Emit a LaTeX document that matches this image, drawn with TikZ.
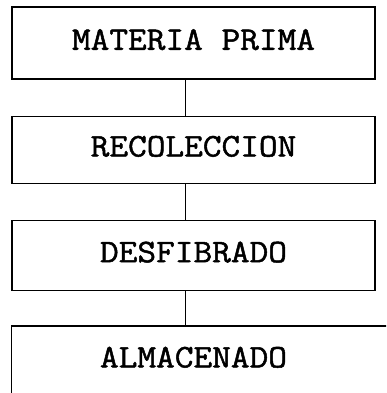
\documentclass[tikz,border=0pt]{standalone}
\usepackage{fontspec}
\newfontfamily\stagefont{Latin Modern Mono}[FakeStretch=1.1, FakeBold=1.5]
\usepackage{tikz}
\usetikzlibrary{positioning}

\tikzset{
    stagebox/.style={draw, line width=1.2pt, minimum width=363pt, inner sep=0pt,
        text depth=7pt, font=\stagefont\fontsize{33}{33}\selectfont},
    link/.style={line width=1.2pt},
}

\begin{document}
\begin{tikzpicture}[x=1pt, y=1pt]
    % Frame of the page
    \useasboundingbox (0,0) rectangle (386,-393);
    \clip (0,0) rectangle (386,-393);

    % Stages
    \node[stagebox, minimum height=72pt] (mp) at (193.5,-43) {MATERIA PRIMA};
    \node[stagebox, minimum height=67pt, below=36pt of mp] (rec) {RECOLECCION};
    \node[stagebox, minimum height=70pt, below=36pt of rec] (des) {DESFIBRADO};
    \node[stagebox, draw=none, minimum height=68pt, below=35pt of des] (alm) {ALMACENADO};

    % Last box runs off the page
    \draw[line width=1.2pt] (alm.south west) -- (alm.north west) -- ([xshift=40pt]alm.north east);
    \draw[gray!40, line width=1pt, dotted] (alm.south west) -- ([xshift=-120pt]alm.south east);

    % Connect stages
    \draw[link] ([xshift=-8pt]mp.south) -- ([xshift=-8pt]rec.north);
    \draw[link] ([xshift=-8pt]rec.south) -- ([xshift=-8pt]des.north);
    \draw[link] ([xshift=-8pt]des.south) -- ([xshift=-8pt]alm.north);
\end{tikzpicture}
\end{document}
